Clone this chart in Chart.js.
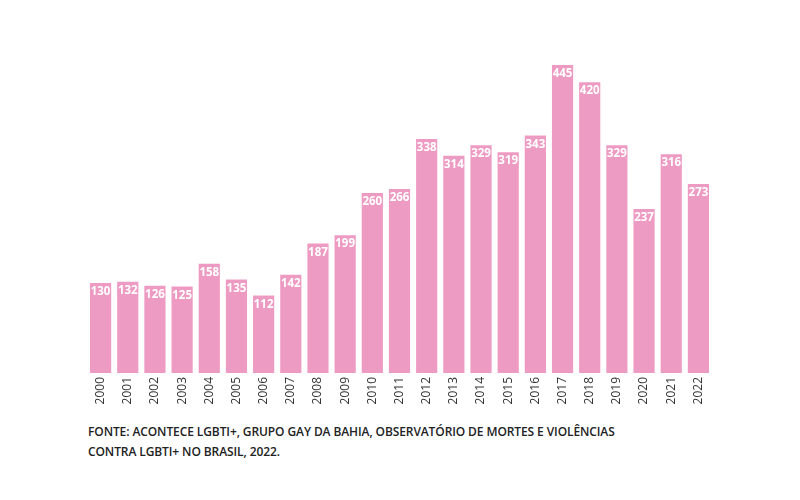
<!DOCTYPE html>
<html lang="pt">
<head>
    <meta charset="UTF-8">
    <title>Mortes LGBTI+ no Brasil</title>
    <script src="https://cdn.jsdelivr.net/npm/chart.js"></script>
    <style>
        body { margin: 0; background: #fff; }
        #wrap { position: absolute; left: 0; top: 0; width: 800px; height: 410px; }
        .fonte {
            position: absolute; left: 88px; top: 422px;
            font-family: "Open Sans", sans-serif; font-size: 12px; font-weight: 600;
            color: #222; line-height: 20px; letter-spacing: -0.1px;
        }
    </style>
</head>
<body>
    <div id="wrap"><canvas id="grafico"></canvas></div>
    <div class="fonte">FONTE: ACONTECE LGBTI+, GRUPO GAY DA BAHIA, OBSERVATÓRIO DE MORTES E VIOLÊNCIAS<br>CONTRA LGBTI+ NO BRASIL, 2022.</div>

    <script>
        // Dados
        const anos = ['2000', '2001', '2002', '2003', '2004', '2005', '2006', '2007', '2008', '2009', '2010', '2011',
                      '2012', '2013', '2014', '2015', '2016', '2017', '2018', '2019', '2020', '2021', '2022'];
        const mortes = [130, 132, 126, 125, 158, 135, 112, 142, 187, 199, 260, 266,
                        338, 314, 329, 319, 343, 445, 420, 329, 237, 316, 273];

        // rótulos brancos no topo de cada barra
        const rotulos = {
            id: 'rotulos',
            afterDatasetsDraw(chart) {
                const ctx = chart.ctx;
                const meta = chart.getDatasetMeta(0);
                ctx.save();
                ctx.fillStyle = '#fff';
                ctx.font = 'bold 11.5px "Open Sans", sans-serif';
                ctx.textAlign = 'center';
                ctx.textBaseline = 'top';
                meta.data.forEach((bar, i) => {
                    ctx.fillText(mortes[i], bar.x, bar.y + 3);
                });
                ctx.restore();
            }
        };

        new Chart(document.getElementById('grafico'), {
            type: 'bar',
            data: {
                labels: anos,
                datasets: [{
                    data: mortes,
                    backgroundColor: 'rgb(238, 155, 195)',
                    barPercentage: 0.78,
                    categoryPercentage: 1
                }]
            },
            options: {
                responsive: true,
                maintainAspectRatio: false,
                animation: false,
                layout: { padding: { left: 87, right: 88, top: 65, bottom: 0 } },
                plugins: { legend: { display: false }, tooltip: { enabled: false } },
                scales: {
                    x: {
                        grid: { display: false, drawTicks: false },
                        border: { display: false },
                        ticks: {
                            maxRotation: 90, minRotation: 90, padding: 4,
                            color: '#333',
                            font: { family: '"Open Sans", sans-serif', size: 12 }
                        },
                        afterFit(s) { s.height = 37; }
                    },
                    y: {
                        display: false,
                        min: 0,
                        max: 445
                    }
                }
            },
            plugins: [rotulos]
        });
    </script>
</body>
</html>
